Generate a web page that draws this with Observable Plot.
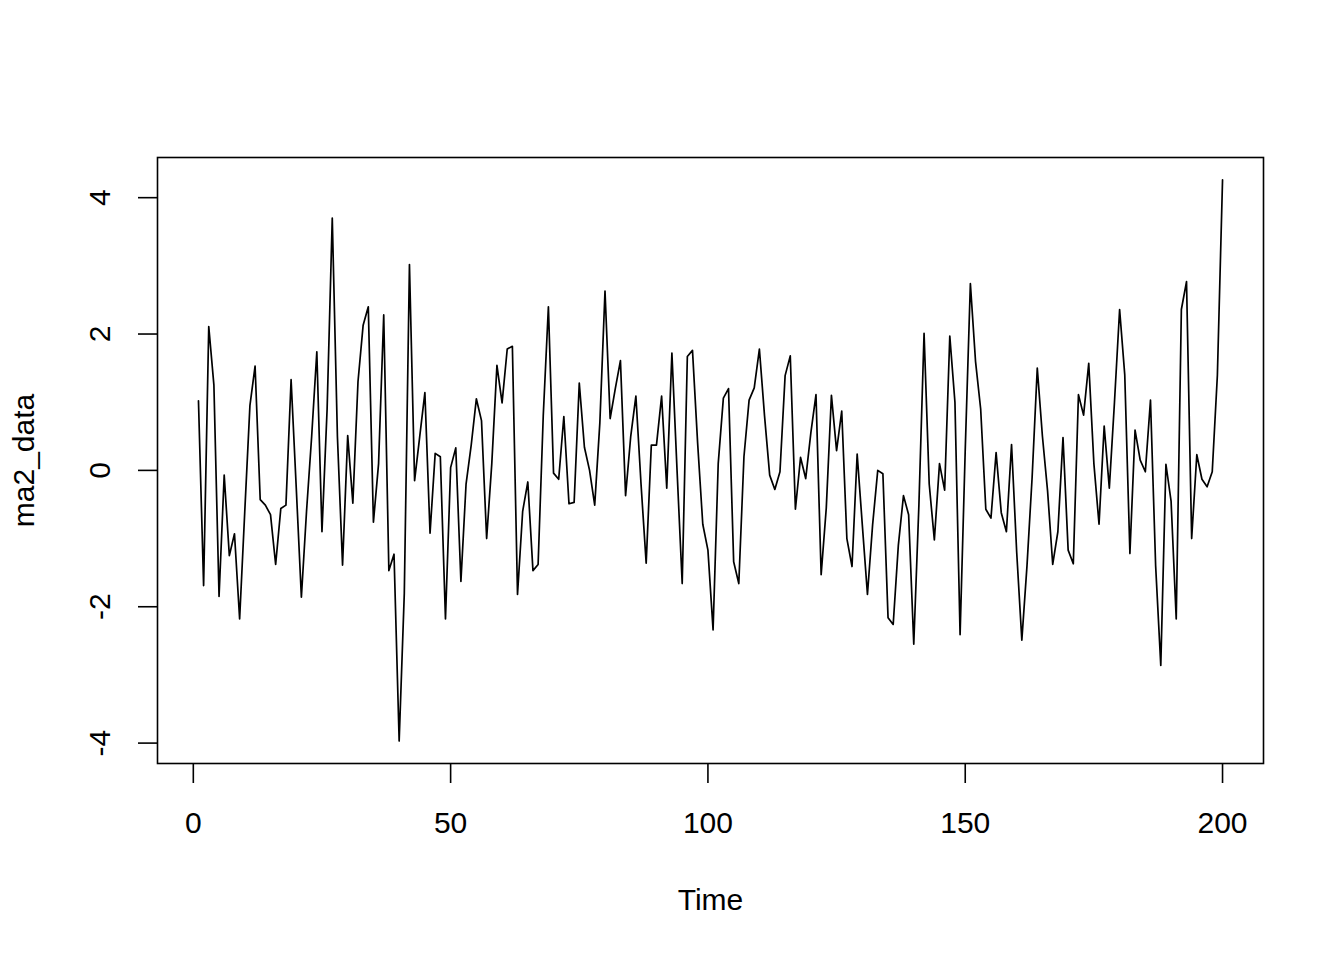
<!DOCTYPE html>
<html>
<head>
<meta charset="utf-8">
<script src="https://cdn.jsdelivr.net/npm/d3@7"></script>
<script src="https://cdn.jsdelivr.net/npm/@observablehq/plot@0.6"></script>
<style>
  html, body { margin: 0; padding: 0; background: #fff; }
  svg { display: block; }
</style>
</head>
<body>
<div id="chart"></div>
<script>
const ma2_data = [
  1.02, -1.69, 2.11, 1.25, -1.85, -0.07, -1.25, -0.93, -2.18, -0.6,
  0.95, 1.53, -0.43, -0.51, -0.65, -1.38, -0.56, -0.51, 1.33, -0.25,
  -1.86, -0.6, 0.5, 1.74, -0.9, 0.9, 3.7, 0.5, -1.39, 0.51,
  -0.48, 1.3, 2.13, 2.4, -0.76, 0.1, 2.28, -1.47, -1.23, -3.97,
  -1.8, 3.02, -0.15, 0.5, 1.14, -0.92, 0.25, 0.2, -2.18, 0.04,
  0.33, -1.63, -0.2, 0.37, 1.05, 0.73, -1.0, 0.1, 1.54, 0.99,
  1.78, 1.82, -1.82, -0.6, -0.17, -1.47, -1.38, 0.8, 2.4, -0.04,
  -0.13, 0.79, -0.49, -0.47, 1.28, 0.34, 0.0, -0.51, 0.7, 2.63,
  0.76, 1.2, 1.61, -0.37, 0.5, 1.09, -0.2, -1.36, 0.37, 0.37,
  1.09, -0.26, 1.72, 0.0, -1.66, 1.67, 1.76, 0.4, -0.79, -1.17,
  -2.34, 0.1, 1.06, 1.2, -1.34, -1.66, 0.2, 1.03, 1.21, 1.78,
  0.8, -0.07, -0.28, -0.02, 1.39, 1.68, -0.57, 0.19, -0.12, 0.55,
  1.11, -1.53, -0.55, 1.1, 0.29, 0.87, -1.0, -1.41, 0.24, -0.8,
  -1.82, -0.8, 0.0, -0.05, -2.16, -2.26, -1.1, -0.37, -0.65, -2.55,
  -0.5, 2.01, -0.2, -1.02, 0.1, -0.29, 1.97, 1.0, -2.41, 0.3,
  2.74, 1.6, 0.9, -0.57, -0.7, 0.26, -0.62, -0.9, 0.38, -1.2,
  -2.49, -1.4, -0.1, 1.5, 0.5, -0.3, -1.38, -0.9, 0.48, -1.17,
  -1.37, 1.11, 0.81, 1.57, 0.1, -0.79, 0.65, -0.26, 1.0, 2.36,
  1.4, -1.22, 0.59, 0.15, -0.02, 1.03, -1.4, -2.86, 0.09, -0.45,
  -2.18, 2.36, 2.77, -1.0, 0.23, -0.13, -0.24, -0.02, 1.4, 4.26
];
const time = ma2_data.map((_, i) => i + 1);
const xTicks = [0, 50, 100, 150, 200];
const yTicks = [-4, -2, 0, 2, 4];
const xTitle = "Time";
const yTitle = "ma2_data";

const data = time.map((t, i) => ({t, v: ma2_data[i]}));

function expand(ext) {
  const pad = (ext[1] - ext[0]) * 0.04;
  return [ext[0] - pad, ext[1] + pad];
}
const xDomain = expand(d3.extent(time));
const yDomain = expand(d3.extent(ma2_data));

const font = "'Liberation Sans', Arial, Helvetica, sans-serif";

const chart = Plot.plot({
  width: 1344,
  height: 960,
  marginLeft: 157,
  marginRight: 81,
  marginTop: 157,
  marginBottom: 197,
  style: {fontFamily: font, background: "#fff", color: "#000"},
  x: {domain: xDomain},
  y: {domain: yDomain},
  marks: [
    Plot.frame({stroke: "#000", strokeWidth: 1.6}),
    Plot.axisX({
      ticks: xTicks, tickSize: 20, tickPadding: 28, tickFormat: d => String(d),
      fontSize: 30, strokeWidth: 1.6, label: null, stroke: "#000"
    }),
    Plot.axisY({
      ticks: yTicks, tickSize: 19, tickFormat: () => "", strokeWidth: 1.6, label: null, stroke: "#000"
    }),
    Plot.text(yTicks, {
      y: d => d, text: d => String(d), frameAnchor: "left", dx: -57,
      rotate: -90, textAnchor: "middle", lineAnchor: "middle", fontSize: 30, fill: "#000"
    }),
    Plot.lineY(data, {x: "t", y: "v", stroke: "#000", strokeWidth: 1.7}),
    Plot.text([xTitle], {text: d => d, frameAnchor: "bottom", dy: 137, fontSize: 30, textAnchor: "middle", lineAnchor: "middle", fill: "#000"}),
    Plot.text([yTitle], {text: d => d, frameAnchor: "left", dx: -133, rotate: -90, fontSize: 30, textAnchor: "middle", lineAnchor: "middle", fill: "#000"})
  ]
});
document.getElementById("chart").appendChild(chart);
</script>
</body>
</html>
